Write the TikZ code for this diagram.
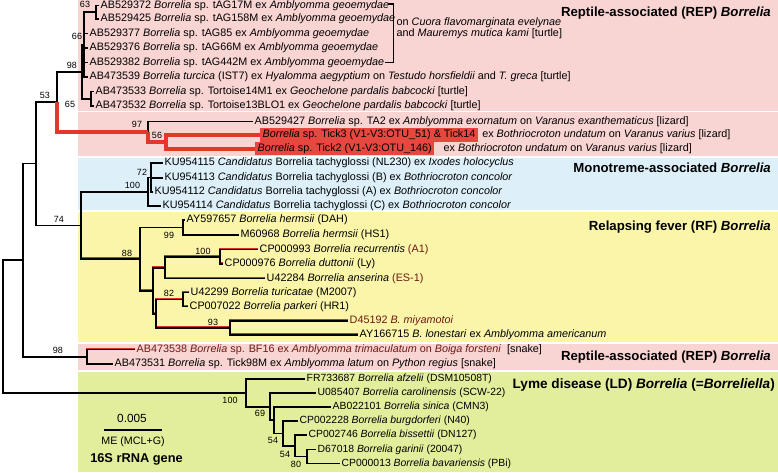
\documentclass[tikz,border=0pt]{standalone}
\usepackage{fontspec}
\setmainfont{Liberation Sans}
\definecolor{reppink}{HTML}{F8D4D2}
\definecolor{monoblue}{HTML}{DDF0FA}
\definecolor{rfyellow}{HTML}{FAF5A9}
\definecolor{ldlime}{HTML}{E3EE9C}
\definecolor{tickred}{HTML}{E6483F}
\definecolor{redline}{HTML}{E2372A}
\definecolor{fringered}{HTML}{D8302A}
\definecolor{darkred}{HTML}{6E1A12}
\begin{document}
\begin{tikzpicture}[x=1pt,y=-1pt,
  brn/.style={line width=1.8pt, black},
  redbr/.style={line width=4pt, redline},
  fringe/.style={line width=1.8pt, fringered},
  tiplab/.style={anchor=west, inner xsep=1.5pt, inner ysep=0pt, text height=7.9pt, text depth=2.3pt, font=\fontsize{10.8}{12}\selectfont},
  ldlab/.style={tiplab, font=\fontsize{10.4}{12}\selectfont},
  tickbox/.style={tiplab, fill=tickred, inner xsep=2.5pt, inner ysep=1.5pt, text height=8.1pt, text depth=2.4pt},
  bsv/.style={inner sep=0pt, font=\fontsize{9}{10}\selectfont},
  ttl/.style={anchor=east, inner sep=0pt, font=\bfseries\fontsize{13.2}{15}\selectfont},
]
\useasboundingbox (0,0) rectangle (778,472);
% backgrounds
\fill[reppink] (78,0) rectangle (778,110.5);
\fill[reppink] (78,112) rectangle (778,155.5);
\fill[monoblue] (78,157.5) rectangle (778,210);
\fill[rfyellow] (78,212) rectangle (778,342);
\fill[reppink] (78,344) rectangle (778,369.5);
\fill[ldlime] (78,372) rectangle (778,472);

% group titles
\node[ttl] (ttlrep) at (771,13) {Reptile-associated (REP) \textit{Borrelia}};
\node[ttl] (ttlmono) at (771,168) {Monotreme-associated \textit{Borrelia}};
\node[ttl] (ttlrf) at (771,227) {Relapsing fever (RF) \textit{Borrelia}};
\node[ttl] (ttlrep2) at (771,357) {Reptile-associated (REP) \textit{Borrelia}};
\node[ttl, font=\bfseries\fontsize{13.6}{16}\selectfont] (ttlld) at (775,385) {Lyme disease (LD) \textit{Borrelia} (=\textit{Borreliella})};

% internal nodes
\coordinate (root) at (3,326.45);
\coordinate (nW) at (22.7,260.1);
\coordinate (n53) at (36,163.5);
\coordinate (n65) at (57,101.65);
\coordinate (n98) at (82,71.7);
\coordinate (n66) at (84,44.6);
\coordinate (n63) at (96,12.25);
\coordinate (ntort) at (91,98.75);
\coordinate (n97) at (148,131.6);
\coordinate (n56) at (166,141.75);
\coordinate (n74) at (81,225.4);
\coordinate (nmono) at (148,191.75);
\coordinate (n72) at (151,177.5);
\coordinate (n88) at (140,259.1);
\coordinate (n99) at (183,227.5);
\coordinate (nX) at (153,290.7);
\coordinate (nZ) at (165,267.6);
\coordinate (n100rf) at (220,256.75);
\coordinate (nY) at (156,313.75);
\coordinate (n82) at (183,299.5);
\coordinate (n93) at (230,328);
\coordinate (nsnake) at (87,356.75);
\coordinate (nLD) at (246,392.8);
\coordinate (n69) at (270,406.6);
\coordinate (nb) at (274,420.2);
\coordinate (n54a) at (283,433.4);
\coordinate (n54b) at (295,445.75);
\coordinate (n80) at (307,456.5);

% tips
\node[tiplab] (t1) at (99,5.5) {AB529372 \textit{Borrelia} sp. tAG17M ex \textit{Amblyomma geoemydae}};
\node[tiplab] (t2) at (99,19) {AB529425 \textit{Borrelia} sp. tAG158M ex \textit{Amblyomma geoemydae}};
\node[tiplab] (t3) at (88,33.5) {AB529377 \textit{Borrelia} sp. tAG85 ex \textit{Amblyomma geoemydae}};
\node[tiplab] (t4) at (88,48) {AB529376 \textit{Borrelia} sp. tAG66M ex \textit{Amblyomma geoemydae}};
\node[tiplab] (t5) at (88,62.5) {AB529382 \textit{Borrelia} sp. tAG442M ex \textit{Amblyomma geoemydae}};
\node[tiplab] (t6) at (88,77) {AB473539 \textit{Borrelia turcica} (IST7) ex \textit{Hyalomma aegyptium} on \textit{Testudo horsfieldii} and \textit{T. greca} [turtle]};
\node[tiplab] (t7) at (94,91.5) {AB473533 \textit{Borrelia} sp. Tortoise14M1 ex \textit{Geochelone pardalis babcocki} [turtle]};
\node[tiplab] (t8) at (94,106) {AB473532 \textit{Borrelia} sp. Tortoise13BLO1 ex \textit{Geochelone pardalis babcocki} [turtle]};
\node[tiplab] (t9) at (253,121.5) {AB529427 \textit{Borrelia} sp. TA2 ex \textit{Amblyomma exornatum} on \textit{Varanus exanthematicus} [lizard]};
\node[tickbox] (t10) at (260,135) {\textit{Borrelia} sp. Tick3 (V1-V3:OTU\_51) \& Tick14};
\node[tiplab] (t10b) at ([xshift=2.5pt]t10.east) {ex \textit{Bothriocroton undatum} on \textit{Varanus varius} [lizard]};
\node[tickbox] (t11) at (255,148.5) {\textit{Borrelia} sp. Tick2 (V1-V3:OTU\_146)};
\node[tiplab] (t11b) at ([xshift=7.5pt]t11.east) {ex \textit{Bothriocroton undatum} on \textit{Varanus varius} [lizard]};
\node[tiplab] (t12) at (163,163) {KU954115 \textit{Candidatus} Borrelia tachyglossi (NL230) ex \textit{Ixodes holocyclus}};
\node[tiplab] (t13) at (163,178) {KU954113 \textit{Candidatus} Borrelia tachyglossi (B) ex \textit{Bothriocroton concolor}};
\node[tiplab] (t14) at (153,192) {KU954112 \textit{Candidatus} Borrelia tachyglossi (A) ex \textit{Bothriocroton concolor}};
\node[tiplab] (t15) at (161,206) {KU954114 \textit{Candidatus} Borrelia tachyglossi (C) ex \textit{Bothriocroton concolor}};
\node[tiplab] (t16) at (185,220) {AY597657 \textit{Borrelia hermsii} (DAH)};
\node[tiplab] (t17) at (239,235) {M60968 \textit{Borrelia hermsii} (HS1)};
\node[tiplab] (t18) at (258,249.5) {CP000993 \textit{Borrelia recurrentis} \textcolor{darkred}{(A1)}};
\node[tiplab] (t19) at (223,264) {CP000976 \textit{Borrelia duttonii} (Ly)};
\node[tiplab] (t20) at (265,278.5) {U42284 \textit{Borrelia anserina} \textcolor{darkred}{(ES-1)}};
\node[tiplab] (t21) at (189,292.5) {U42299 \textit{Borrelia turicatae} (M2007)};
\node[tiplab] (t22) at (188,306.5) {CP007022 \textit{Borrelia parkeri} (HR1)};
\node[tiplab, text=darkred] (t23) at (348,321) {D45192 \textit{B. miyamotoi}};
\node[tiplab] (t24) at (358,335) {AY166715 \textit{B. lonestari} ex \textit{Amblyomma americanum}};
\node[tiplab, text=darkred] (t25) at (135,349.5) {AB473538 \textit{Borrelia} sp. BF16 ex \textit{Amblyomma trimaculatum} on \textit{Boiga forsteni}\ \ \textcolor{black}{[snake]}};
\node[tiplab] (t26) at (113,364) {AB473531 \textit{Borrelia} sp. Tick98M ex \textit{Amblyomma latum} on \textit{Python regius} [snake]};
\node[ldlab] (t27) at (305,379) {FR733687 \textit{Borrelia afzelii} (DSM10508T)};
\node[ldlab] (t28) at (316,393) {U085407 \textit{Borrelia carolinensis} (SCW-22)};
\node[ldlab] (t29) at (331,407) {AB022101 \textit{Borrelia sinica} (CMN3)};
\node[ldlab] (t30) at (298,421) {CP002228 \textit{Borrelia burgdorferi} (N40)};
\node[ldlab] (t31) at (307,435) {CP002746 \textit{Borrelia bissettii} (DN127)};
\node[ldlab] (t32) at (316,449.5) {D67018 \textit{Borrelia garinii} (20047)};
\node[ldlab] (t33) at (340,463.5) {CP000013 \textit{Borrelia bavariensis} (PBi)};

% bracket and its text
\coordinate (bra) at (388,4);
\coordinate (brb) at (393.5,4);
\coordinate (brc) at (393.5,62.5);
\coordinate (brd) at (385,62.5);
\draw[line width=1.3pt] (bra) -- (brb) -- (brc) -- (brd);
\node[tiplab] (host1) at (395,22.5) {on \textit{Cuora flavomarginata evelynae}};
\node[tiplab] (host2) at (395,33.5) {and \textit{Mauremys mutica kami} [turtle]};

% red fringe under RF and snake branches
\begin{scope}[transform canvas={yshift=1pt}]
\draw[fringe] (n74) |- (n88);
\draw[fringe] (n88) |- (nX);
\draw[fringe] (nX) |- (nZ);
\draw[fringe] (nX) |- (nY);
\draw[fringe] (nZ) |- (n100rf);
\draw[fringe] (nZ) |- (t20.west);
\draw[fringe] (n100rf) |- (t18.west);
\draw[fringe] (n100rf) |- (t19.west);
\draw[fringe] (nY) |- (n82);
\draw[fringe] (nY) |- (n93);
\draw[fringe] (n82) |- (t21.west);
\draw[fringe] (n82) |- (t22.west);
\draw[fringe] (n93) |- (t23.west);
\draw[fringe] (n93) |- (t24.west);
\draw[fringe] (nsnake) |- (t25.west);
\end{scope}

% black branches
\draw[brn] (root) |- (nW);
\draw[brn] (root) |- (nLD);
\draw[brn] (nW) |- (n53);
\draw[brn] (nW) |- (nsnake);
\draw[brn] (n53) |- (n65);
\draw[brn] (n53) |- (n74);
\draw[brn] (n65) |- (n98);
\draw[brn] (n98) |- (n66);
\draw[brn] (n98) |- (ntort);
\draw[brn] (n66) |- (n63);
\draw[brn] (n66) |- (t3.west);
\draw[brn] (n66) |- (t4.west);
\draw[brn] (n66) |- (t5.west);
\draw[brn] (n66) |- (t6.west);
\draw[brn] (n63) |- (t1.west);
\draw[brn] (n63) |- (t2.west);
\draw[brn] (ntort) |- (t7.west);
\draw[brn] (ntort) |- (t8.west);
\draw[brn] (n97) |- (t9.west);
\draw[brn] (n74) |- (nmono);
\draw[brn] (n74) |- (n88);
\draw[brn] (nmono) |- (n72);
\draw[brn] (nmono) |- (t15.west);
\draw[brn] (n72) |- (t12.west);
\draw[brn] (n72) |- (t13.west);
\draw[brn] (n72) |- (t14.west);
\draw[brn] (n88) |- (n99);
\draw[brn] (n88) |- (nX);
\draw[brn] (n99) |- (t16.west);
\draw[brn] (n99) |- (t17.west);
\draw[brn] (nX) |- (nZ);
\draw[brn] (nX) |- (nY);
\draw[brn] (nZ) |- (n100rf);
\draw[brn] (nZ) |- (t20.west);
\draw[brn] (n100rf) |- (t18.west);
\draw[brn] (n100rf) |- (t19.west);
\draw[brn] (nY) |- (n82);
\draw[brn] (nY) |- (n93);
\draw[brn] (n82) |- (t21.west);
\draw[brn] (n82) |- (t22.west);
\draw[brn] (n93) |- (t23.west);
\draw[brn] (n93) |- (t24.west);
\draw[brn] (nsnake) |- (t25.west);
\draw[brn] (nsnake) |- (t26.west);
\draw[brn] (nLD) |- (t27.west);
\draw[brn] (nLD) |- (n69);
\draw[brn] (n69) |- (t28.west);
\draw[brn] (n69) |- (nb);
\draw[brn] (nb) |- (t29.west);
\draw[brn] (nb) |- (n54a);
\draw[brn] (n54a) |- (t30.west);
\draw[brn] (n54a) |- (n54b);
\draw[brn] (n54b) |- (t31.west);
\draw[brn] (n54b) |- (n80);
\draw[brn] (n80) |- (t32.west);
\draw[brn] (n80) |- (t33.west);

% red highlighted lineage
\draw[redbr] (n65) |- (n97);
\draw[redbr] (n97) |- (n56);
\draw[redbr] (n56) |- (t10.west);
\draw[redbr] (n56) |- (t11.west);

% bootstrap values
\node[bsv] (b63) at (85,4.5) {63};
\node[bsv] (b66) at (77,36) {66};
\node[bsv] (b98) at (72,65) {98};
\node[bsv] (b53) at (45,95) {53};
\node[bsv] (b65) at (70,104.5) {65};
\node[bsv] (b97) at (137,124.5) {97};
\node[bsv] (b56) at (157,135) {56};
\node[bsv] (b72) at (142,172) {72};
\node[bsv] (b100m) at (132.5,185) {100};
\node[bsv] (b74) at (59,219.5) {74};
\node[bsv] (b99) at (169,235.5) {99};
\node[bsv] (b88) at (127,253) {88};
\node[bsv] (b100r) at (203,251.5) {100};
\node[bsv] (b82) at (169,293.5) {82};
\node[bsv] (b93) at (213,322) {93};
\node[bsv] (b98s) at (58,350) {98};
\node[bsv] (b100l) at (230,400) {100};
\node[bsv] (b69) at (260,413) {69};
\node[bsv] (b54a) at (273,440) {54};
\node[bsv] (b54b) at (285,454) {54};
\node[bsv] (b80) at (296,464) {80};

% scale bar and caption
\coordinate (sbl) at (104,430);
\coordinate (sbr) at (162,430);
\draw[line width=1.6pt] (sbl) -- (sbr);
\node[inner sep=0pt, font=\fontsize{11.8}{13}\selectfont] (sbtxt) at (132,418) {0.005};
\node[inner sep=0pt, font=\fontsize{10.7}{12}\selectfont] (metxt) at (133,442) {ME (MCL+G)};
\node[inner sep=0pt, font=\bfseries\fontsize{12.8}{14}\selectfont] (genetxt) at (136.5,459.5) {16S rRNA gene};
\end{tikzpicture}
\end{document}
